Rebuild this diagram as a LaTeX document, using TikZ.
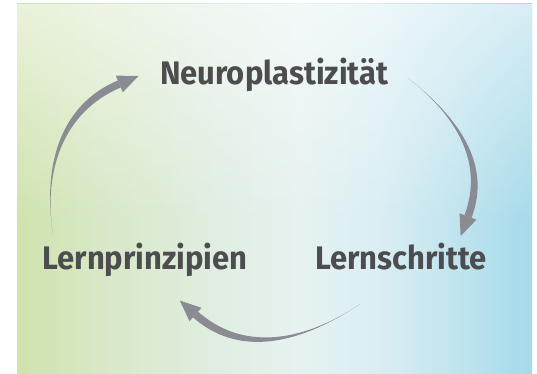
\documentclass[tikz,border=0pt]{standalone}
\usepackage{fontspec}
\setmainfont{Fira Sans}[FakeStretch=0.95]
\usetikzlibrary{calc, fadings}

\definecolor{txtgray}{HTML}{4D4D4F}
\definecolor{arrgray}{HTML}{8B8B93}
\definecolor{bgA}{HTML}{CFE3AD}
\definecolor{bgB}{HTML}{D8E8C6}
\definecolor{bgC}{HTML}{DFEDDF}
\definecolor{bgD}{HTML}{E6F2F1}
\definecolor{bgE}{HTML}{DAEEF3}
\definecolor{bgF}{HTML}{C2E5EF}
\definecolor{bgG}{HTML}{A6DAEA}

\pgfdeclarehorizontalshading{bgfill}{100bp}{color(0bp)=(bgA); color(25bp)=(bgA); color(33bp)=(bgB); color(43bp)=(bgC); color(52.5bp)=(bgD); color(60bp)=(bgE); color(67bp)=(bgF); color(75bp)=(bgG); color(100bp)=(bgG)}
\tikzfading[name=topfade, top color=transparent!45, bottom color=transparent!100]

\tikzset{
    cyclelabel/.style={anchor=base, inner sep=0pt, text=txtgray, font=\fontsize{32.6}{36}\selectfont\bfseries},
    tapered/.style={fill=arrgray, draw=none},
}

\begin{document}
\begin{tikzpicture}[x=1pt, y=1pt]
    \useasboundingbox (0,0) rectangle (537,374);
    % background
    \shade[shading=bgfill] (17,0) rectangle (532,370);
    \fill[white, path fading=topfade] (17,150) rectangle (532,370);

    \node[cyclelabel] (neuro) at (274.2,289.7) {Neuroplastizität};
    \node[cyclelabel] (prinz) at (145,104) {Lernprinzipien};
    \node[cyclelabel] (schritte) at (400.9,104) {Lernschritte};

    % tails and head bases of the arrows
    \coordinate (t1) at (53,140);
    \coordinate (h1) at (119.3,290);
    \coordinate (t2) at (408.3,295.7);
    \coordinate (h2) at (468,157.5);
    \coordinate (t3) at (360,70);
    \coordinate (h3) at (195.5,59.5);

    \foreach \tail/\aout/\head/\hdir in {t1/99/h1/22.8, t2/-38/h2/249.3, t3/214/h3/138.5} {
        \pgfmathsetmacro\hin{\hdir+180}
        \fill[tapered] (\tail) to[out=\aout, in=\hin] ($(\head)+(\hdir+90:3.8)$) -- ($(\head)+(\hdir-90:3.8)$) to[out=\hin, in=\aout] (\tail) -- cycle;
        \fill[tapered] ($(\head)+(\hdir:21)$) -- ($(\head)+(\hdir+90:9)$) -- ($(\head)+(\hdir-90:9)$) -- cycle;
    }
\end{tikzpicture}
\end{document}
